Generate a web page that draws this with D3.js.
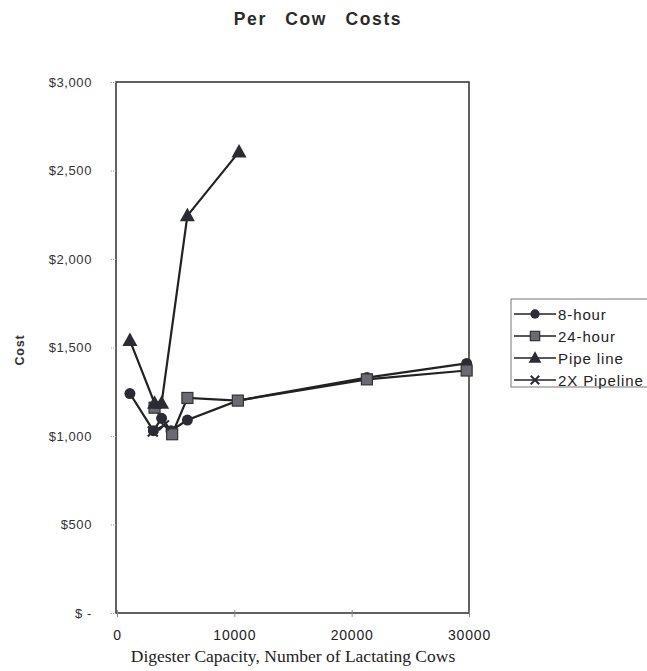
<!DOCTYPE html>
<html><head><meta charset="utf-8">
<script src="https://cdn.jsdelivr.net/npm/d3@7"></script>
<style>body{margin:0;background:#fff;}svg{display:block;}</style>
</head><body>
<script>
const title = "Per Cow Costs";
const xLabel = "Digester Capacity, Number of Lactating Cows";
const yLabel = "Cost";
const xTicks = [0, 10000, 20000, 30000];
const yTicks = [0, 500, 1000, 1500, 2000, 2500, 3000];
const seriesNames = ["8-hour", "24-hour", "Pipe line", "2X Pipeline"];
const eightHour = [[1100,1240],[3100,1030],[3800,1100],[4600,1030],[6000,1090],[10300,1200],[21300,1330],[29800,1410]];
const twentyFourHour = [[3200,1160],[4700,1010],[6000,1215],[10300,1200],[21300,1320],[29800,1370]];
const pipeLine = [[1100,1540],[3200,1185],[3800,1185],[6000,2245],[10400,2605]];
const twoXPipeline = [[3050,1025],[4000,1060]];

const W = 647, H = 671;
const svg = d3.select("body").append("svg").attr("width", W).attr("height", H);
const L = 117, R = 469, T = 82, B = 613;
const x = d3.scaleLinear().domain([0, 30000]).range([L, R]);
const y = d3.scaleLinear().domain([0, 3000]).range([B, T]);
const ink = "#2b2b33";
const sans = "Liberation Sans, Arial, sans-serif";

// frame
svg.append("rect").attr("x", L-1).attr("y", T).attr("width", R-L+1).attr("height", B-T)
  .attr("fill", "none").attr("stroke", "#3a3a3a").attr("stroke-width", 1.6);

// y axis
const ya = svg.append("g").attr("transform", `translate(${L-1},0)`)
  .call(d3.axisLeft(y).tickValues(yTicks).tickSize(5).tickPadding(19)
    .tickFormat(d => d === 0 ? "$ -" : "$" + d3.format(",")(d)));
ya.select(".domain").remove();
ya.selectAll(".tick line").attr("stroke", "#999").attr("stroke-dasharray", "1,1");
ya.selectAll("text").attr("font-family", sans)
  .attr("font-size", 13).attr("fill", "#333").attr("letter-spacing", "0.6px");

// x axis
const xa = svg.append("g").attr("transform", `translate(0,${B})`)
  .call(d3.axisBottom(x).tickValues(xTicks).tickSize(4).tickPadding(13).tickFormat(d3.format("d")));
xa.select(".domain").remove();
xa.selectAll(".tick line").attr("stroke", "#888").attr("y1", -3);
xa.selectAll("text").attr("font-family", sans)
  .attr("font-size", 14).attr("fill", "#222").attr("letter-spacing", "0.8px");

// title and labels
svg.append("text").attr("x", 318).attr("y", 25).attr("text-anchor", "middle")
  .attr("font-family", sans).attr("font-weight", "bold")
  .attr("font-size", 17.5).attr("fill", "#2a2a2a").attr("word-spacing", "12px").attr("letter-spacing", "1.6px")
  .text(title);
svg.append("text").attr("transform", "translate(24,350) rotate(-90)").attr("text-anchor", "middle")
  .attr("font-family", sans).attr("font-weight", "bold")
  .attr("font-size", 12.5).attr("fill", "#333").attr("letter-spacing", "0.8px").text(yLabel);
svg.append("text").attr("x", 293).attr("y", 662).attr("text-anchor", "middle")
  .attr("font-family", "Liberation Serif, Times New Roman, serif")
  .attr("font-size", 17.5).attr("fill", "#222").text(xLabel);

const line = d3.line().x(d => x(d[0])).y(d => y(d[1]));
const allSeries = [
  {name: seriesNames[0], data: eightHour, marker: "circle"},
  {name: seriesNames[1], data: twentyFourHour, marker: "square"},
  {name: seriesNames[2], data: pipeLine, marker: "triangle"},
  {name: seriesNames[3], data: twoXPipeline, marker: "x"}
];

function drawMarker(g, type, cx, cy, k) {
  k = k || 1;
  if (type === "circle") {
    g.append("circle").attr("cx", cx).attr("cy", cy).attr("r", 5.5*k).attr("fill", ink);
  } else if (type === "square") {
    g.append("rect").attr("x", cx-5.5*k).attr("y", cy-5.5*k).attr("width", 11*k).attr("height", 11*k)
      .attr("fill", "#6a6a70").attr("stroke", "#333").attr("stroke-width", 1.2);
  } else if (type === "triangle") {
    g.append("path").attr("d", `M${cx},${cy-8*k}L${cx+7.5*k},${cy+5.5*k}L${cx-7.5*k},${cy+5.5*k}Z`).attr("fill", ink);
  } else {
    g.append("path").attr("d", `M${cx-5*k},${cy-5*k}L${cx+5*k},${cy+5*k}M${cx+5*k},${cy-5*k}L${cx-5*k},${cy+5*k}`)
      .attr("stroke", ink).attr("stroke-width", 2);
  }
}

allSeries.forEach(s => {
  svg.append("path").datum(s.data).attr("d", line).attr("fill", "none")
    .attr("stroke", "#222").attr("stroke-width", 2.2);
});
allSeries.forEach(s => {
  const g = svg.append("g");
  s.data.forEach(d => drawMarker(g, s.marker, x(d[0]), y(d[1])));
});

// legend
const lg = svg.append("g");
lg.append("rect").attr("x", 511).attr("y", 299).attr("width", 150).attr("height", 88)
  .attr("fill", "#fff").attr("stroke", "#777").attr("stroke-width", 1);
allSeries.forEach((s, i) => {
  const ly = 314 + i * 22;
  lg.append("line").attr("x1", 514).attr("x2", 556).attr("y1", ly).attr("y2", ly)
    .attr("stroke", "#222").attr("stroke-width", 1.6);
  drawMarker(lg, s.marker, 535, ly, 0.85);
  lg.append("text").attr("x", 558).attr("y", ly + 5.5)
    .attr("font-family", sans).attr("font-size", 15)
    .attr("fill", "#222").attr("letter-spacing", "0.9px").text(s.name);
});
</script>
</body></html>
